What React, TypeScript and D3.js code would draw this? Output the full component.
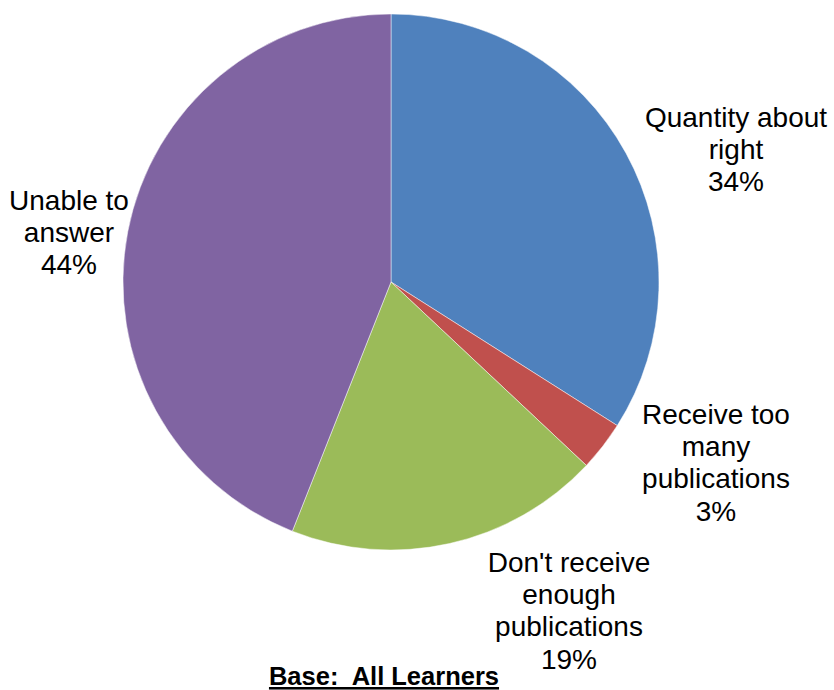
import React from "react";
import * as d3 from "d3";

const categories = ["Quantity about right", "Receive too many publications", "Don't receive enough publications", "Unable to answer"];
const values = [34, 3, 19, 44];
const colors = ["#4F81BD", "#C0504D", "#9BBB59", "#8064A2"];
const labelLines = [
  ["Quantity about", "right", "34%"],
  ["Receive too", "many", "publications", "3%"],
  ["Don't receive", "enough", "publications", "19%"],
  ["Unable to", "answer", "44%"],
];
const labelPos = [
  [736, 117],
  [716, 414],
  [569, 562],
  [69, 200],
];
const footnote = "Base:  All Learners";

export default function App() {
  const W = 834, H = 690;
  const cx = 391, cy = 282, r = 268;
  const pie = d3.pie<number>().sort(null).value((d) => d)(values);
  const arc = d3.arc<d3.PieArcDatum<number>>().innerRadius(0).outerRadius(r);
  const lh = 32.2;
  return (
    <svg width={W} height={H} style={{ position: "absolute", left: 0, top: 0, background: "#fff" }}
      fontFamily="'Liberation Sans', Arial, sans-serif">
      <g transform={`translate(${cx},${cy})`}>
        {pie.map((p, i) => (
          <path key={i} d={arc(p) || ""} fill={colors[i]} stroke="#ffffff" strokeOpacity={0.6} strokeWidth={0.8} />
        ))}
      </g>
      {labelLines.map((lines, i) => (
        <text key={i} textAnchor="middle" fontSize={28} fill="#000">
          {lines.map((l, j) => (
            <tspan key={j} x={labelPos[i][0]} y={labelPos[i][1] + j * lh + 10}>{l}</tspan>
          ))}
        </text>
      ))}
      <text x={384} y={685} textAnchor="middle" fontSize={25.5} fontWeight="bold" textDecoration="underline"
        style={{ whiteSpace: "pre" }}>{footnote}</text>
    </svg>
  );
}
